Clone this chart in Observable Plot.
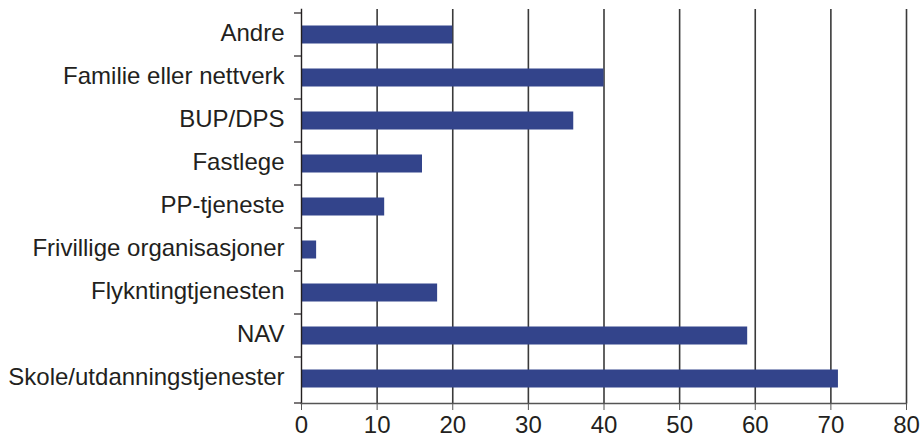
<!DOCTYPE html>
<html>
<head>
<meta charset="utf-8">
<script src="https://cdn.jsdelivr.net/npm/d3@7"></script>
<script src="https://cdn.jsdelivr.net/npm/@observablehq/plot@0.6"></script>
<style>
  html, body { margin: 0; padding: 0; background: #fff; }
  #chart svg { display: block; }
</style>
</head>
<body>
<div id="chart"></div>
<script>
// Referral sources, top to bottom
const categories = [
  "Andre",
  "Familie eller nettverk",
  "BUP/DPS",
  "Fastlege",
  "PP-tjeneste",
  "Frivillige organisasjoner",
  "Flykntingtjenesten",
  "NAV",
  "Skole/utdanningstjenester"
];
const values = [20, 40, 36, 16, 11, 2, 18, 59, 71];
const xTicks = [0, 10, 20, 30, 40, 50, 60, 70, 80];

const data = categories.map((category, i) => ({category, value: values[i]}));

const font = "'Liberation Sans', Arial, Helvetica, sans-serif";
const ink = "#231f20";

// Short ticks on the left axis at the boundaries between rows
function bandTicks(index, scales, values, dimensions) {
  const y = scales.y;
  const x0 = dimensions.marginLeft;
  const ys = categories.map(c => y(c));
  ys.push(dimensions.height - dimensions.marginBottom);
  const g = d3.create("svg:g").attr("stroke", ink).attr("stroke-width", 1.2);
  g.selectAll("line").data(ys).join("line")
    .attr("x1", x0 - 7).attr("x2", x0)
    .attr("y1", d => d).attr("y2", d => d);
  return g.node();
}

const chart = Plot.plot({
  width: 921,
  height: 437,
  marginLeft: 301,
  marginRight: 15,
  marginTop: 9,
  marginBottom: 34,
  style: {fontFamily: font, fontSize: "24px", color: ink, background: "#fff"},
  x: {domain: [0, 80]},
  y: {domain: categories, padding: 0},
  marks: [
    Plot.ruleX(xTicks.slice(1), {stroke: "#3a3a3a", strokeWidth: 1.6}),
    Plot.barX(data, {x: "value", y: "category", fill: "#33448b", insetTop: 12.5, insetBottom: 12.5}),
    Plot.frame({anchor: "left", stroke: ink, strokeWidth: 1.4}),
    Plot.frame({anchor: "bottom", stroke: "#555", strokeWidth: 1.4}),
    Plot.axisX({ticks: xTicks, tickSize: 7, tickPadding: 5.5, label: null, stroke: "#555", fill: ink, fontSize: 24}),
    Plot.axisY({tickSize: 0, tickPadding: 17, label: null, dy: -1.5, fill: ink, fontSize: 24}),
    bandTicks
  ]
});

document.getElementById("chart").appendChild(chart);
</script>
</body>
</html>
